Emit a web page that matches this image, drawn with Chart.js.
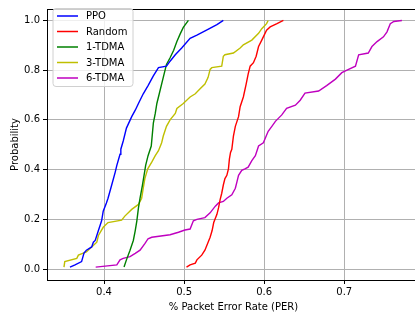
<!DOCTYPE html>
<html>
<head>
<meta charset="utf-8">
<script src="https://cdn.jsdelivr.net/npm/chart.js@4/dist/chart.umd.min.js"></script>
<style>
html,body{margin:0;padding:0;overflow:hidden;background:#fff;}
#wrap{position:absolute;left:0;top:0;width:421px;height:313px;}
</style>
</head>
<body>
<div id="wrap"><canvas id="c" width="421" height="313"></canvas></div>
<script>
// ---- data ----
const seriesNames = ["PPO", "Random", "1-TDMA", "3-TDMA", "6-TDMA"];
const seriesColors = ["#0000ff", "#ff0000", "#008000", "#bfbf00", "#bf00bf"];

const ppoX = [0.3575,0.3638,0.372,0.375,0.378,0.3846,0.3867,0.389,0.393,0.397,0.399,0.403,0.405,0.4096,0.414,0.416,0.42,0.421,0.424,0.428,0.4346,0.439,0.443,0.449,0.455,0.4616,0.468,0.478,0.4825,0.489,0.497,0.5075,0.516,0.528,0.541,0.549];
const ppoY = [0.008,0.017,0.03,0.064,0.076,0.089,0.108,0.115,0.155,0.194,0.233,0.266,0.285,0.338,0.39,0.417,0.462,0.482,0.515,0.567,0.613,0.639,0.666,0.705,0.738,0.777,0.81,0.816,0.836,0.862,0.889,0.928,0.941,0.961,0.983,1.0];

const randomX = [0.503,0.5075,0.514,0.516,0.522,0.526,0.530,0.5325,0.535,0.537,0.541,0.543,0.545,0.547,0.549,0.551,0.5534,0.5554,0.5566,0.558,0.5596,0.5616,0.564,0.568,0.57,0.574,0.5775,0.580,0.5825,0.5866,0.59,0.593,0.597,0.603,0.6075,0.616,0.624];
const randomY = [0.008,0.017,0.024,0.037,0.056,0.076,0.108,0.128,0.155,0.187,0.22,0.246,0.279,0.305,0.338,0.364,0.377,0.403,0.443,0.469,0.482,0.535,0.574,0.613,0.653,0.692,0.744,0.784,0.816,0.83,0.856,0.895,0.921,0.961,0.974,0.987,1.0];

const tdma1X = [0.425,0.428,0.4325,0.4366,0.439,0.441,0.443,0.445,0.448,0.450,0.452,0.455,0.459,0.4616,0.464,0.466,0.469,0.474,0.478,0.4825,0.487,0.491,0.495,0.499,0.5054];
const tdma1Y = [0.008,0.037,0.076,0.115,0.155,0.194,0.246,0.285,0.338,0.377,0.417,0.456,0.495,0.587,0.626,0.666,0.705,0.771,0.823,0.850,0.880,0.915,0.945,0.972,1.0];

const tdma3X = [0.35,0.351,0.366,0.368,0.378,0.3846,0.391,0.393,0.399,0.405,0.422,0.426,0.4346,0.443,0.447,0.449,0.451,0.4546,0.4596,0.464,0.468,0.472,0.474,0.478,0.4825,0.489,0.491,0.499,0.5075,0.514,0.52,0.526,0.530,0.5325,0.5346,0.547,0.549,0.551,0.5616,0.57,0.574,0.5846,0.593,0.597,0.603,0.605];
const tdma3Y = [0.008,0.03,0.043,0.056,0.069,0.089,0.108,0.135,0.168,0.187,0.197,0.213,0.24,0.26,0.285,0.325,0.364,0.403,0.43,0.456,0.476,0.508,0.535,0.574,0.6,0.626,0.646,0.666,0.692,0.705,0.725,0.744,0.771,0.803,0.81,0.816,0.856,0.862,0.869,0.889,0.902,0.921,0.948,0.967,0.987,1.0];

const tdma6X = [0.3896,0.416,0.42,0.424,0.4325,0.439,0.445,0.451,0.455,0.4596,0.4825,0.493,0.501,0.5075,0.5116,0.516,0.526,0.5325,0.539,0.543,0.549,0.5534,0.5596,0.564,0.566,0.568,0.572,0.576,0.580,0.5846,0.589,0.593,0.599,0.605,0.6096,0.614,0.622,0.628,0.639,0.645,0.651,0.668,0.678,0.689,0.697,0.7054,0.714,0.718,0.730,0.7346,0.741,0.749,0.7534,0.7575,0.762,0.772];
const tdma6Y = [0.008,0.017,0.037,0.043,0.05,0.063,0.076,0.102,0.122,0.128,0.138,0.148,0.157,0.161,0.194,0.2,0.207,0.226,0.253,0.266,0.272,0.285,0.299,0.325,0.351,0.377,0.397,0.403,0.41,0.436,0.456,0.495,0.508,0.554,0.574,0.594,0.62,0.646,0.659,0.679,0.708,0.716,0.738,0.764,0.79,0.803,0.816,0.862,0.869,0.895,0.915,0.934,0.954,0.987,0.996,1.0];

const xTicks = [0.4, 0.5, 0.6, 0.7];
const yTicks = [0.0, 0.2, 0.4, 0.6, 0.8, 1.0];

const xs = [ppoX, randomX, tdma1X, tdma3X, tdma6X];
const ys = [ppoY, randomY, tdma1Y, tdma3Y, tdma6Y];

const datasets = seriesNames.map((name, i) => ({
  label: name,
  data: xs[i].map((x, j) => ({x: x, y: ys[i][j]})),
  borderColor: seriesColors[i],
  backgroundColor: seriesColors[i],
  borderWidth: 1.4,
  pointRadius: 0,
  tension: 0,
  fill: false
}));

const FONT = "'DejaVu Sans', sans-serif";

const framePlugin = {
  id: 'frame',
  afterDraw(chart) {
    const {ctx, chartArea: a} = chart;
    ctx.save();
    ctx.strokeStyle = '#000';
    ctx.lineWidth = 1;
    ctx.beginPath();
    ctx.moveTo(a.left, a.top + 0.5);
    ctx.lineTo(a.right, a.top + 0.5);
    ctx.moveTo(a.right - 0.5, a.top);
    ctx.lineTo(a.right - 0.5, a.bottom);
    ctx.stroke();
    // legend
    const bx = 53, by = 8.5, bw = 80, bh = 78, r = 3;
    ctx.beginPath();
    ctx.moveTo(bx + r, by);
    ctx.lineTo(bx + bw - r, by);
    ctx.quadraticCurveTo(bx + bw, by, bx + bw, by + r);
    ctx.lineTo(bx + bw, by + bh - r);
    ctx.quadraticCurveTo(bx + bw, by + bh, bx + bw - r, by + bh);
    ctx.lineTo(bx + r, by + bh);
    ctx.quadraticCurveTo(bx, by + bh, bx, by + bh - r);
    ctx.lineTo(bx, by + r);
    ctx.quadraticCurveTo(bx, by, bx + r, by);
    ctx.closePath();
    ctx.fillStyle = 'rgba(255,255,255,0.8)';
    ctx.fill();
    ctx.strokeStyle = '#d0d0d0';
    ctx.stroke();
    ctx.font = '10px ' + FONT;
    ctx.textBaseline = 'middle';
    ctx.textAlign = 'left';
    chart.data.datasets.forEach((ds, i) => {
      const y = 16 + i * 15.5;
      ctx.strokeStyle = ds.borderColor;
      ctx.lineWidth = 1.5;
      ctx.beginPath();
      ctx.moveTo(57, y);
      ctx.lineTo(78, y);
      ctx.stroke();
      ctx.fillStyle = '#000';
      ctx.fillText(ds.label, 86, y + 0.5);
    });
    ctx.restore();
  }
};

new Chart(document.getElementById('c'), {
  type: 'line',
  data: {datasets: datasets},
  options: {
    responsive: false,
    animation: false,
    layout: {padding: {top: 3, right: 1, left: 0, bottom: 0}},
    plugins: {legend: {display: false}, tooltip: {enabled: false}},
    scales: {
      x: {
        type: 'linear',
        min: 0.3288,
        max: 0.7946,
        afterBuildTicks: s => { s.ticks = xTicks.map(v => ({value: v})); },
        afterFit: s => { s.height = 33; },
        ticks: {
          color: '#000',
          font: {family: FONT, size: 10},
          padding: 2,
          maxRotation: 0,
          callback: v => Number(v).toFixed(1)
        },
        grid: {color: '#b0b0b0', lineWidth: 1, tickColor: '#000', tickLength: 4},
        border: {color: '#000', width: 1},
        title: {display: true, text: '% Packet Error Rate (PER)', color: '#000', font: {family: FONT, size: 10}, padding: {top: 0, bottom: 0}}
      },
      y: {
        type: 'linear',
        min: -0.044,
        max: 1.046,
        afterBuildTicks: s => { s.ticks = yTicks.map(v => ({value: v})); },
        afterFit: s => { s.width = 47; },
        ticks: {
          color: '#000',
          font: {family: FONT, size: 10},
          padding: 3,
          callback: v => Number(v).toFixed(1)
        },
        grid: {color: '#b0b0b0', lineWidth: 1, tickColor: '#000', tickLength: 4},
        border: {color: '#000', width: 1},
        title: {display: true, text: 'Probability', color: '#000', font: {family: FONT, size: 10}, padding: {top: 9, bottom: 0}}
      }
    }
  },
  plugins: [framePlugin]
});
</script>
</body>
</html>
